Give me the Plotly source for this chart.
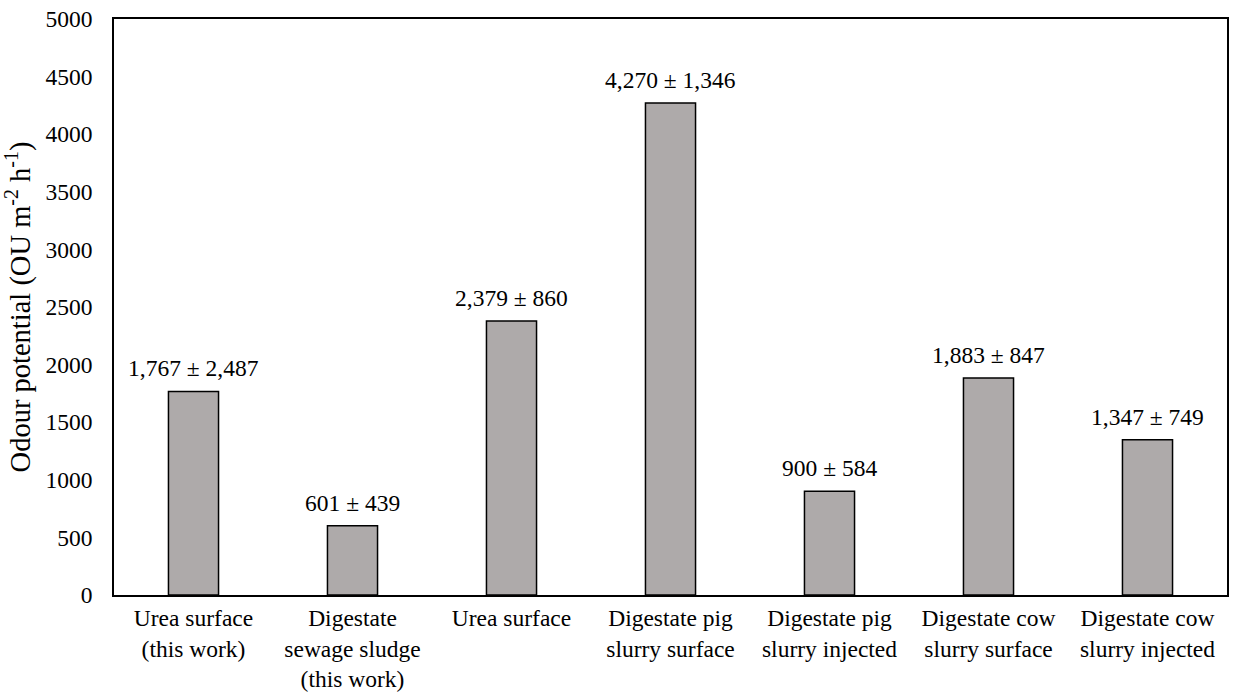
import plotly.graph_objects as go

# Odour potential per application scenario (OU m-2 h-1), mean and standard deviation
categories = [
    "Urea surface<br>(this work)",
    "Digestate<br>sewage sludge<br>(this work)",
    "Urea surface",
    "Digestate pig<br>slurry surface",
    "Digestate pig<br>slurry injected",
    "Digestate cow<br>slurry surface",
    "Digestate cow<br>slurry injected",
]
mean_values = [1767, 601, 2379, 4270, 900, 1883, 1347]
sd_values = [2487, 439, 860, 1346, 584, 847, 749]
y_ticks = [0, 500, 1000, 1500, 2000, 2500, 3000, 3500, 4000, 4500, 5000]

FONT = "Liberation Serif, Times New Roman, serif"
FS = 23.5
TITLE_FS = 28.5

fig = go.Figure()
fig.add_trace(go.Bar(
    x=categories,
    y=mean_values,
    width=0.315,
    marker=dict(color="#AEAAAA", line=dict(color="black", width=1.5)),
    hoverinfo="skip",
))

# Mean ± SD label above each bar
for cat, m, sd in zip(categories, mean_values, sd_values):
    fig.add_annotation(
        x=cat, y=m, text=f"{m:,} ± {sd:,}",
        showarrow=False, yanchor="bottom", yshift=8,
        font=dict(family=FONT, size=FS, color="black"),
    )

fig.update_layout(
    width=1234, height=695,
    margin=dict(l=114, r=7, t=19, b=100),
    plot_bgcolor="white", paper_bgcolor="white",
    showlegend=False,
    font=dict(family=FONT, size=FS, color="black"),
)
fig.update_xaxes(
    showline=True, linecolor="black", linewidth=1.5, mirror=True,
    ticks="", showgrid=False, automargin=False,
    tickfont=dict(family=FONT, size=FS, color="black"),
    ticklabelstandoff=1,
)
fig.update_yaxes(
    range=[0, 5000], tickvals=y_ticks, ticktext=[str(v) for v in y_ticks],
    showline=True, linecolor="black", linewidth=1.5, mirror=True,
    ticks="", showgrid=False, zeroline=False, automargin=False,
    tickfont=dict(family=FONT, size=FS, color="black"),
    ticklabelstandoff=15,
    title=dict(text="Odour potential (OU m<sup>-2</sup> h<sup>-1</sup>)",
               font=dict(family=FONT, size=TITLE_FS, color="black"), standoff=10),
)

fig.write_html("out.html")
